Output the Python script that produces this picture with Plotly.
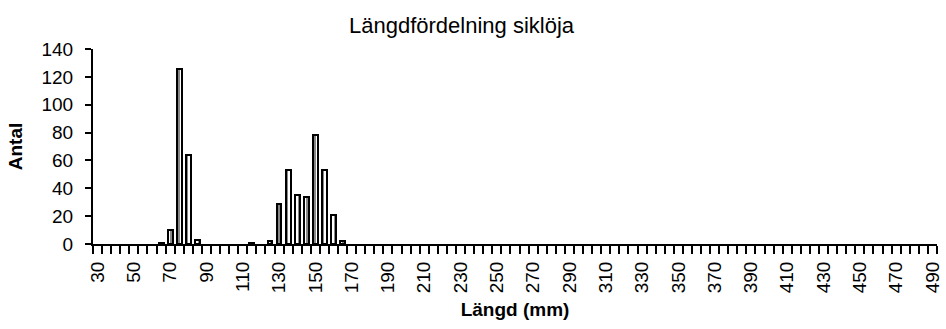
import plotly.graph_objects as go

lengths = list(range(30, 495, 5))
counts_map = {65: 1, 70: 10, 75: 126, 80: 64, 85: 3, 115: 1, 125: 2, 130: 29,
              135: 53, 140: 35, 145: 34, 150: 78, 155: 53, 160: 21, 165: 2}
counts = [counts_map.get(v, 0) for v in lengths]
x_labels = list(range(30, 491, 20))
y_ticks = list(range(0, 141, 20))

font = "Liberation Sans, Arial, sans-serif"

bar_x = [x for x, c in zip(lengths, counts) if c > 0]
bar_y = [c for c in counts if c > 0]

fig = go.Figure(go.Bar(
    x=bar_x, y=bar_y, width=2.7,
    marker=dict(color="white", line=dict(color="black", width=2),
                pattern=dict(shape="|", fgcolor="#7a7a7a", bgcolor="white", size=4,
                             solidity=0.45, fillmode="replace")),
))

fig.update_layout(
    width=946, height=329, margin=dict(l=93, r=3, t=49, b=85),
    paper_bgcolor="white", plot_bgcolor="white", showlegend=False,
    font=dict(family=font, size=19, color="black"),
    title=dict(text="Längdfördelning siklöja", x=461.5/946, xanchor="center",
               y=1-25/329, yanchor="middle", font=dict(size=22, family=font)),
    bargap=0,
)
fig.update_xaxes(
    range=[27.5, 492.5], tickvals=x_labels, ticktext=[str(v) for v in x_labels],
    ticks="outside", ticklen=8, tickcolor="rgba(0,0,0,0)", tickangle=-90,
    ticklabeloverflow="allow",
    showgrid=False, zeroline=False,
    showline=True, linecolor="black", linewidth=2,
    minor=dict(tick0=27.5, dtick=5, ticks="outside", ticklen=8, tickwidth=2,
               tickcolor="black", showgrid=False),
    title=dict(text="<b>Längd (mm)</b>", font=dict(size=19), standoff=10),
    tickfont=dict(size=19),
)
fig.update_yaxes(
    range=[0, 140], tickvals=y_ticks, ticks="outside", ticklen=6, tickwidth=2, tickcolor="black",
    ticklabelstandoff=8,
    showgrid=False, zeroline=False, showline=True, linecolor="black", linewidth=2,
    title=dict(text="<b>Antal</b>", font=dict(size=19), standoff=14),
    tickfont=dict(size=19),
)

fig.write_html("out.html")
